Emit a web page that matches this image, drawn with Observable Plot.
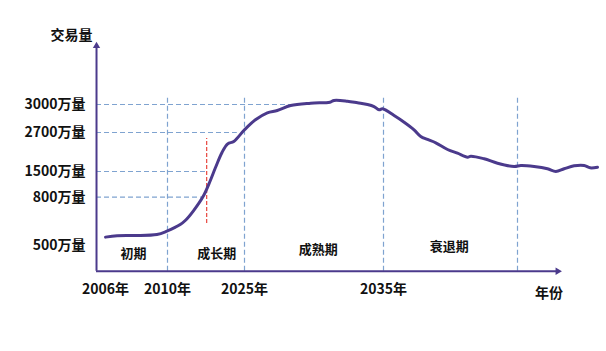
<!DOCTYPE html>
<html><head><meta charset="utf-8">
<script src="https://cdn.jsdelivr.net/npm/d3@7"></script>
<script src="https://cdn.jsdelivr.net/npm/@observablehq/plot@0.6"></script>
<style>body{margin:0;background:#fff}</style>
</head><body><div id="chart"></div>
<script>
// Curve (year, 交易量 in 万量)
const years = [2006.0,2006.75,2007.82,2009.32,2009.96,2012.48,2013.46,2015.09,2017.04,2018.35,2019.33,2020.64,2021.73,2022.91,2025.0,2025.79,2026.64,2027.36,2028.32,2029.76,2031.15,2031.44,2032.40,2033.13,2033.85,2034.32,2034.68,2034.93,2035.79,2036.54,2037.28,2037.78,2038.28,2038.90,2039.78,2040.52,2041.27,2041.52,2042.51,2043.51,2044.75,2045.25,2046.24,2047.24,2047.86,2048.48,2049.23,2049.97,2050.42,2050.97];
const volumes = [552,560,562,568,589,630,655,717,846,1255,1614,2094,2352,2423,2729,2836,2911,2936,2989,3014,3025,3043,3035,3018,3000,2978,2943,2954,2882,2810,2729,2577,2485,2383,2177,2063,1940,1971,1891,1755,1654,1685,1654,1583,1500,1583,1675,1685,1614,1632];

// Tick labels
const xTicks = [2006, 2010, 2025, 2035];
const yTicks = [500, 800, 1500, 2700, 3000];
// Reference lines
const refLevels = [3000, 2700, 1500, 800];
const refLevelEnds = [2028.5, 2023.6, 2017.4, 2017.1];
const phaseBounds = [2010, 2025, 2035, 2045];
const redLineYear = 2017.63;
const redLineRange = [637, 2515];
// Phase labels
const phaseNames = ["初期", "成长期", "成熟期", "衰退期"];
const phaseYears = [2007.8, 2019.6, 2030.3, 2039.9];
const phaseLevels = [451, 451, 475, 490];
// Axis extents
const axisStartYear = 2005.42, axisEndYear = 2048.4;
const axisBottom = 340, axisTop = 3667, guideTop = 3096;

const curve = years.map((x, i) => ({x, y: volumes[i]}));
const refs = refLevels.map((y, i) => ({y, x2: refLevelEnds[i]}));
const phases = phaseNames.map((t, i) => ({t, x: phaseYears[i], y: phaseLevels[i]}));

const font = "'Noto Sans CJK SC', 'Noto Sans', sans-serif";
const axisColor = "#4b3a8c";
const dashBlue = "#7fa3d0";

const chart = Plot.plot({
  width: 606, height: 351,
  marginLeft: 96, marginRight: 43, marginTop: 41, marginBottom: 81,
  style: {fontFamily: font, fontWeight: "bold", color: "#111", background: "#fff"},
  x: {type: "linear", domain: [2006, 2010, 2025, 2035, 2045], range: [105, 167, 244, 383, 517]},
  y: {type: "linear", domain: [500, 800, 1500, 2700, 3000], range: [245, 196.7, 171, 132, 104]},
  marks: [
    // dashed guides
    Plot.ruleY(refs, {y: "y", x1: axisStartYear, x2: "x2", stroke: dashBlue, strokeWidth: 1.2, strokeDasharray: "5,3"}),
    Plot.ruleX(phaseBounds, {x: d => d, y1: axisBottom, y2: guideTop, stroke: dashBlue, strokeWidth: 1.2, strokeDasharray: "5,3"}),
    Plot.ruleX([redLineYear], {x: d => d, y1: redLineRange[0], y2: redLineRange[1], stroke: "#e8463e", strokeWidth: 1.2, strokeDasharray: "4,2"}),
    // axes lines with arrowheads
    Plot.ruleX([axisStartYear], {x: d => d, y1: axisBottom, y2: axisTop - 40, stroke: axisColor, strokeWidth: 2}),
    Plot.ruleY([axisBottom], {y: d => d, x1: axisStartYear, x2: axisEndYear - 0.4, stroke: axisColor, strokeWidth: 2}),
    Plot.dot([{x: axisStartYear, y: axisTop - 40}], {x: "x", y: "y", symbol: "triangle2", r: 3.5, fill: axisColor, stroke: null}),
    Plot.dot([{x: axisEndYear - 0.4, y: axisBottom}], {x: "x", y: "y", symbol: "triangle2", r: 3.5, rotate: 90, fill: axisColor, stroke: null}),
    // curve
    Plot.line(curve, {x: "x", y: "y", stroke: axisColor, strokeWidth: 3, curve: "catmull-rom", strokeLinejoin: "round", strokeLinecap: "round"}),
    // tick labels
    Plot.axisY({ticks: yTicks, tickFormat: d => d + "万量", tickSize: 0, tickPadding: 11, fontSize: 14, fontWeight: "bold", label: null}),
    Plot.axisX({ticks: xTicks, tickFormat: d => d + "年", tickSize: 0, tickPadding: 14, fontSize: 14, fontWeight: "bold", label: null}),
    // titles
    Plot.text(["交易量"], {x: axisStartYear, y: 3739, text: d => d, textAnchor: "end", dx: -4, fontSize: 14, fontWeight: "bold", fill: "#111"}),
    Plot.text(["年份"], {x: axisEndYear, y: axisBottom, text: d => d, textAnchor: "end", dy: 22, fontSize: 14, fontWeight: "bold", fill: "#111"}),
    // phases
    Plot.text(phases, {x: "x", y: "y", text: "t", fontSize: 13, fontWeight: "bold", fill: "#111"})
  ]
});
document.getElementById("chart").appendChild(chart);
</script></body></html>
